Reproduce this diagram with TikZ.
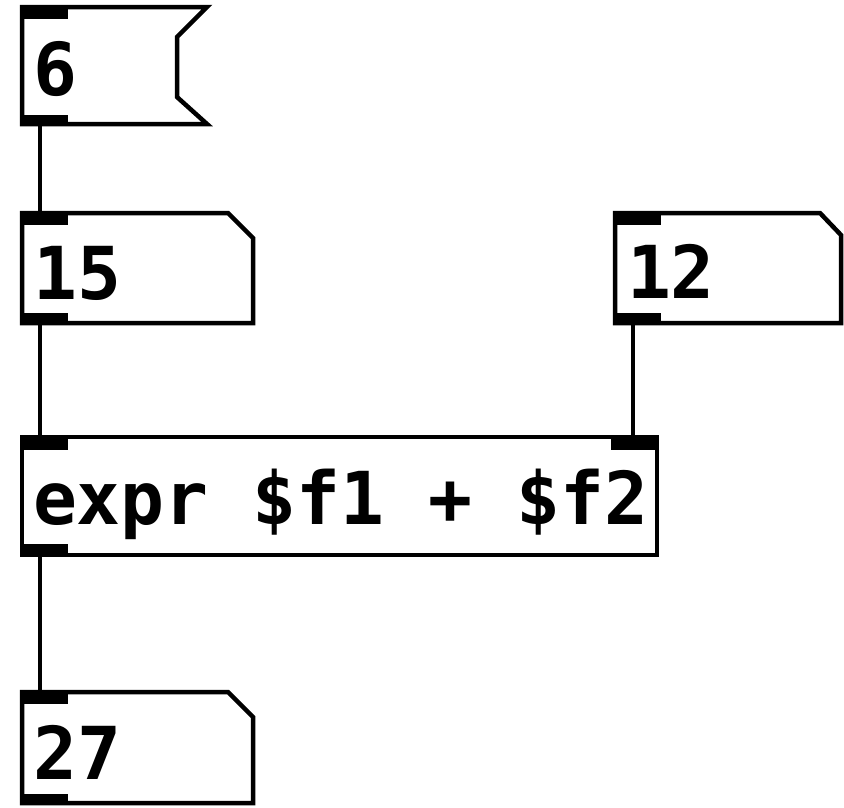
\documentclass[tikz,border=0pt]{standalone}
\usepackage{fontspec}
\newfontfamily\pdfont{DejaVu Sans Mono}
\begin{document}
\begin{tikzpicture}[x=1pt,y=-1pt,
  box/.style={line width=4.5pt, line join=miter, fill=white},
  tab/.style={fill=black},
  wire/.style={line width=4pt},
  lbl/.style={font=\pdfont\bfseries\fontsize{73}{80}\selectfont, anchor=base west, inner sep=0pt, outer sep=0pt}]
\useasboundingbox (0,0) rectangle (844,807);
\fill[white] (0,0) rectangle (844,807);

% message box 6
\draw[box] (22,7) -- (207,7) -- (177,37) -- (177,97) -- (207,124) -- (22,124) -- cycle;
\fill[tab] (20,5) rectangle (68,19);
\fill[tab] (20,115) rectangle (68,126);
\node[lbl] (m6) at (34,95) {6};
\coordinate (m6out) at (40,124);

% atom 15
\draw[box] (22,213) -- (228,213) -- (253,238) -- (253,323) -- (22,323) -- cycle;
\fill[tab] (20,211) rectangle (68,225);
\fill[tab] (20,313) rectangle (68,325);
\node[lbl] (a15) at (34,299) {15};
\coordinate (a15in) at (40,213);
\coordinate (a15out) at (40,323);

% atom 12
\draw[box] (615,213) -- (820,213) -- (841,235) -- (841,323) -- (615,323) -- cycle;
\fill[tab] (613,211) rectangle (661,225);
\fill[tab] (613,313) rectangle (661,325);
\node[lbl] (a12) at (627,298) {12};
\coordinate (a12out) at (633,323);

% expr object
\draw[box] (22,437) rectangle (657,555);
\fill[tab] (20,435) rectangle (68,450);
\fill[tab] (611,435) rectangle (659,450);
\fill[tab] (20,544) rectangle (68,557);
\node[lbl] (ex) at (33,524) {expr \$f1 + \$f2};
\coordinate (exin1) at (40,437);
\coordinate (exin2) at (633,437);
\coordinate (exout) at (40,555);

% atom 27
\draw[box] (22,692) -- (228,692) -- (253,717) -- (253,803) -- (22,803) -- cycle;
\fill[tab] (20,690) rectangle (68,704);
\fill[tab] (20,794) rectangle (68,805);
\node[lbl] (a27) at (34,779) {27};
\coordinate (a27in) at (40,692);

% wires
\draw[wire] (m6out) -- (a15in);
\draw[wire] (a15out) -- (exin1);
\draw[wire] (a12out) -- (exin2);
\draw[wire] (exout) -- (a27in);
\end{tikzpicture}
\end{document}
